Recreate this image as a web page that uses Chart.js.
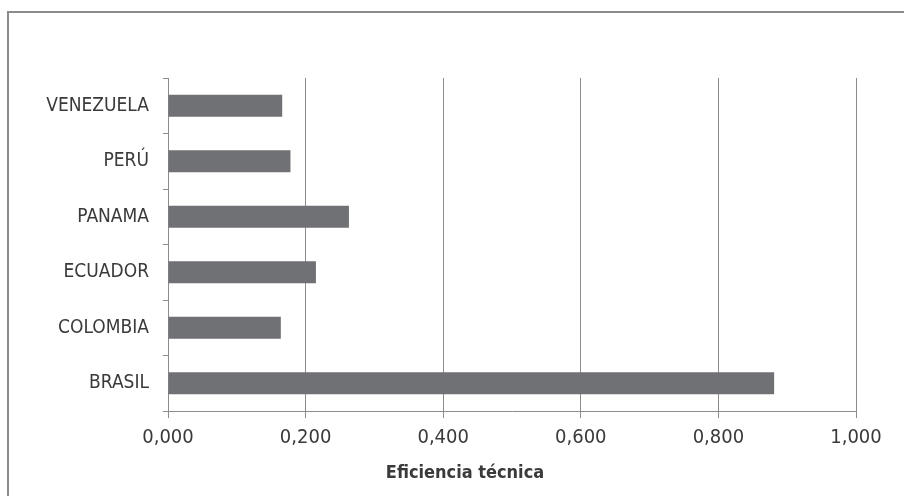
<!DOCTYPE html>
<html>
<head>
<meta charset="utf-8">
<script src="https://cdn.jsdelivr.net/npm/chart.js@4"></script>
<style>
  html, body { margin: 0; padding: 0; background: #fff; }
</style>
</head>
<body>
<canvas id="chart" width="904" height="496"></canvas>
<script>
// Technical efficiency per country
const countries = ["VENEZUELA", "PERÚ", "PANAMA", "ECUADOR", "COLOMBIA", "BRASIL"];
const efficiency = [0.166, 0.178, 0.263, 0.215, 0.164, 0.881];
const axisTitle = "Eficiencia técnica";

const FONT = "'Liberation Sans Narrow', 'DejaVu Sans Condensed', sans-serif";
const TEXT = "#3a3a3a";
const LINE = "#8c8c8c";

// Outer frame and the axis title, drawn straight on the canvas
const framePlugin = {
  id: "frame",
  beforeDraw(chart) {
    const ctx = chart.ctx;
    ctx.save();
    ctx.fillStyle = "#fff";
    ctx.fillRect(0, 0, chart.width, chart.height);
    ctx.strokeStyle = LINE;
    ctx.lineWidth = 2;
    ctx.strokeRect(8, 12, chart.width, chart.height);
    ctx.restore();
  },
  afterDraw(chart) {
    const ctx = chart.ctx;
    ctx.save();
    ctx.fillStyle = TEXT;
    ctx.font = "bold 18px " + FONT;
    ctx.textAlign = "center";
    ctx.textBaseline = "middle";
    ctx.fillText(axisTitle, 465, 473);
    ctx.restore();
  }
};

new Chart(document.getElementById("chart"), {
  type: "bar",
  data: {
    labels: countries,
    datasets: [{
      data: efficiency,
      backgroundColor: "#707174",
      borderWidth: 0,
      categoryPercentage: 1,
      barPercentage: 0.4
    }]
  },
  options: {
    indexAxis: "y",
    responsive: false,
    animation: false,
    layout: { padding: { top: 78, right: 48, left: 0, bottom: 0 } },
    plugins: {
      legend: { display: false },
      tooltip: { enabled: false }
    },
    scales: {
      x: {
        min: 0,
        max: 1,
        ticks: {
          stepSize: 0.2,
          color: TEXT,
          padding: 8,
          font: { family: FONT, size: 20 },
          callback: (v) => Number(v).toFixed(3).replace(".", ",")
        },
        grid: { color: LINE, lineWidth: 1, tickLength: 7 },
        border: { color: LINE, width: 1 },
        afterFit(scale) { scale.height = 85; }
      },
      y: {
        ticks: {
          color: TEXT,
          padding: 14,
          font: { family: FONT, size: 19 }
        },
        grid: { drawOnChartArea: false, color: LINE, tickLength: 5, offset: true },
        border: { color: LINE, width: 1 },
        afterFit(scale) { scale.width = 168; }
      }
    }
  },
  plugins: [framePlugin]
});
</script>
</body>
</html>
